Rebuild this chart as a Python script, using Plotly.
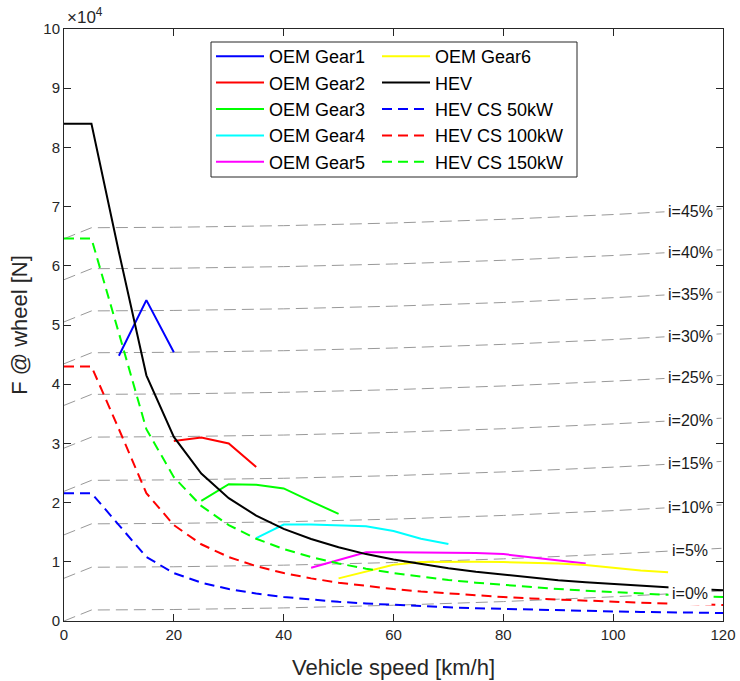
import numpy as np
import plotly.graph_objects as go

# ---------------- data ----------------
speed = [0, 5, 10, 15, 20, 25, 30, 35, 40, 45, 50, 55, 60, 65, 70, 75, 80, 85,
         90, 95, 100, 105, 110, 115, 120]
hev = [84000, 84000, 62300, 41500, 31100, 24900, 20750, 17800, 15550, 13850,
       12450, 11300, 10400, 9600, 8900, 8300, 7800, 7300, 6900, 6550, 6250,
       5950, 5650, 5400, 5200]
hev_cs50 = [21600, 21600, 16200, 10800, 8100, 6480, 5400, 4630, 4050, 3600,
            3240, 2950, 2700, 2490, 2310, 2160, 2030, 1910, 1800, 1700, 1620,
            1540, 1470, 1410, 1350]
hev_cs100 = [43000, 43000, 32400, 21600, 16200, 12960, 10800, 9260, 8100, 7200,
             6480, 5890, 5400, 4980, 4630, 4320, 4050, 3810, 3600, 3410, 3240,
             3090, 2950, 2820, 2700]
hev_cs150 = [64600, 64600, 48600, 32400, 24300, 19440, 16200, 13890, 12150,
             10800, 9720, 8840, 8100, 7480, 6940, 6480, 6080, 5720, 5400, 5120,
             4860, 4630, 4420, 4230, 4050]

gear1_v = [10, 15, 20]
gear1_f = [44800, 54200, 45400]
gear2_v = [20, 25, 30, 35]
gear2_f = [30400, 31000, 30000, 26000]
gear3_v = [25, 30, 35, 40, 45, 50]
gear3_f = [20300, 23100, 23000, 22400, 20200, 18100]
gear4_v = [35, 40, 45, 50, 55, 60, 65, 70]
gear4_f = [14000, 16300, 16300, 16200, 16000, 15200, 13900, 13000]
gear5_v = [45, 50, 55, 60, 65, 70, 75, 80, 85, 90, 95]
gear5_f = [9000, 10300, 11600, 11600, 11600, 11600, 11500, 11300, 10800, 10200, 9700]
gear6_v = [50, 55, 60, 65, 70, 75, 80, 85, 90, 95, 100, 105, 110]
gear6_f = [7200, 8400, 9500, 9950, 10000, 10000, 9950, 9850, 9700, 9450, 8950, 8550, 8250]

# road-load lines for each grade
grade_speed = [0, 5, 20, 40, 60, 80, 100, 120]
road_load = [0, 1860, 1940, 2210, 2660, 3280, 4090, 5070]
grade_pct = [0, 5, 10, 15, 20, 25, 30, 35, 40, 45]
grade_force = [0, 7220, 14550, 21900, 29200, 36420, 43450, 50520, 57650, 64570]

x_ticks = [0, 20, 40, 60, 80, 100, 120]
y_ticks = [0, 10000, 20000, 30000, 40000, 50000, 60000, 70000, 80000, 90000, 100000]
y_ticktext = ["0", "1", "2", "3", "4", "5", "6", "7", "8", "9", "10"]

# ---------------- figure ----------------
FONT = "Liberation Sans, Arial, Helvetica, sans-serif"
AX = "#262626"
L, R, T, B = 64, 17, 29, 60
W, H = 740, 681
PW, PH = W - L - R, H - T - B


def px_x(p):
    return (p - L) / PW


def px_y(p):
    return (H - B - p) / PH


fig = go.Figure()

# grade lines (behind everything)
for pct, gf in zip(grade_pct, grade_force):
    yv = [gf + r for r in road_load]
    fig.add_trace(go.Scatter(x=grade_speed, y=yv, mode="lines", showlegend=False,
                             line=dict(color="#999999", width=1, dash="12px,6px"),
                             hoverinfo="skip"))

solid = [
    ("OEM Gear1", gear1_v, gear1_f, "#0000ff"),
    ("OEM Gear2", gear2_v, gear2_f, "#ff0000"),
    ("OEM Gear3", gear3_v, gear3_f, "#00ff00"),
    ("OEM Gear4", gear4_v, gear4_f, "#00ffff"),
    ("OEM Gear5", gear5_v, gear5_f, "#ff00ff"),
]
for name, xv, yv, col in solid:
    fig.add_trace(go.Scatter(x=xv, y=yv, mode="lines", name=name, legend="legend",
                             line=dict(color=col, width=2)))

second = [
    ("OEM Gear6", gear6_v, gear6_f, "#ffff00", "solid"),
    ("HEV", speed, hev, "#000000", "solid"),
    ("HEV CS 50kW", speed, hev_cs50, "#0000ff", "10px,6px"),
    ("HEV CS 100kW", speed, hev_cs100, "#ff0000", "10px,6px"),
    ("HEV CS 150kW", speed, hev_cs150, "#00ff00", "10px,6px"),
]
for name, xv, yv, col, dsh in second:
    fig.add_trace(go.Scatter(x=xv, y=yv, mode="lines", name=name, legend="legend2",
                             line=dict(color=col, width=2, dash=dsh)))

# grade labels
for pct, gf in zip(grade_pct, grade_force):
    yv = [gf + r for r in road_load]
    ylab = float(np.interp(112, grade_speed, yv))
    fig.add_annotation(x=114, y=ylab, xref="x", yref="y", text=f"i={pct}%",
                       showarrow=False, bgcolor="white", borderpad=3,
                       font=dict(family=FONT, size=16, color="#1a1a1a"))

# x10^4 exponent label
fig.add_annotation(x=0, y=1, xref="paper", yref="paper", xanchor="left",
                   yanchor="bottom", text="×10<sup>4</sup>", showarrow=False,
                   xshift=1, yshift=0,
                   font=dict(family=FONT, size=17, color=AX))

# legend box
fig.add_shape(type="rect", xref="paper", yref="paper",
              x0=px_x(211), x1=px_x(577), y0=px_y(177), y1=px_y(42),
              fillcolor="white", line=dict(color=AX, width=1), layer="above")

leg_common = dict(bgcolor="rgba(0,0,0,0)", borderwidth=0, yanchor="top",
                  xanchor="left", itemwidth=48, tracegroupgap=0,
                  font=dict(family=FONT, size=18, color="#000000"),
                  itemclick=False, itemdoubleclick=False)

fig.update_layout(
    width=W, height=H,
    margin=dict(l=L, r=R, t=T, b=B),
    paper_bgcolor="white", plot_bgcolor="white",
    font=dict(family=FONT, size=15, color=AX),
    legend=dict(x=px_x(211), y=px_y(38), **leg_common),
    legend2=dict(x=px_x(377), y=px_y(38), **leg_common),
    xaxis=dict(range=[0, 120], tickvals=x_ticks, ticks="inside", ticklen=7,
               tickcolor=AX, showline=True, linecolor=AX, linewidth=1,
               mirror="allticks", showgrid=False, zeroline=False,
               automargin=False,
               tickfont=dict(family=FONT, size=15, color=AX),
               title=dict(text="Vehicle speed [km/h]",
                          font=dict(family=FONT, size=22, color=AX), standoff=17)),
    yaxis=dict(range=[0, 100000], tickvals=y_ticks, ticktext=y_ticktext,
               ticks="inside", ticklen=7, tickcolor=AX, showline=True,
               linecolor=AX, linewidth=1, mirror="allticks", showgrid=False,
               zeroline=False, automargin=False,
               tickfont=dict(family=FONT, size=15, color=AX),
               title=dict(text="F @ wheel [N]",
                          font=dict(family=FONT, size=22, color=AX), standoff=9)),
)

fig.write_html("out.html", config={"displayModeBar": False},
               post_script="document.body.style.margin='0';document.body.style.padding='0';")
